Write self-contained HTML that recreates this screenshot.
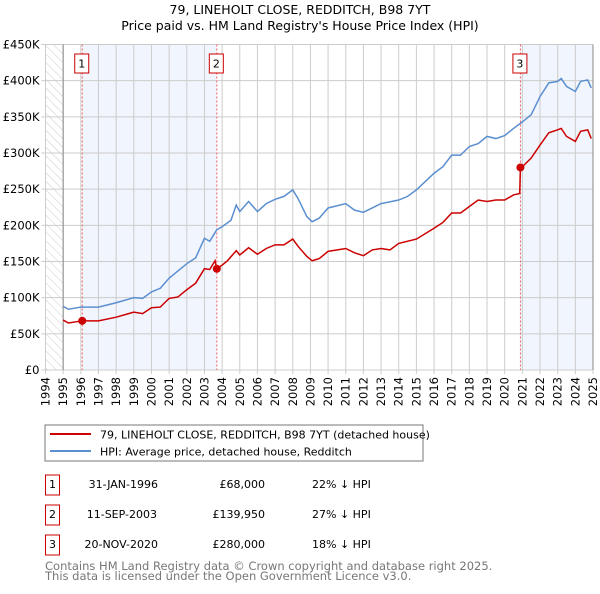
<!DOCTYPE html>
<html><head><meta charset="utf-8"><style>
body{margin:0;background:#fff;font-family:"DejaVu Sans","Liberation Sans",sans-serif}
svg text{font-family:"DejaVu Sans","Liberation Sans",sans-serif}
</style></head><body>
<svg id="c" width="600" height="590" xmlns="http://www.w3.org/2000/svg">
<defs><pattern id="hatch" width="6" height="6" patternUnits="userSpaceOnUse" patternTransform="rotate(-45)"><line x1="0" y1="0" x2="0" y2="6" stroke="#ccc" stroke-width="1"/></pattern></defs>
<text x="300" y="14" text-anchor="middle" font-size="12.5" fill="#000">79, LINEHOLT CLOSE, REDDITCH, B98 7YT</text>
<text x="300" y="30" text-anchor="middle" font-size="12.5" fill="#000">Price paid vs. HM Land Registry's House Price Index (HPI)</text>
<g id="plot"></g>
<rect x="45" y="425" width="378" height="36" fill="#fff" stroke="#777"/>
<line x1="50" y1="434" x2="91" y2="434" stroke="#cc0000" stroke-width="2"/>
<text x="100" y="438.5" font-size="11">79, LINEHOLT CLOSE, REDDITCH, B98 7YT (detached house)</text>
<line x1="50" y1="451" x2="91" y2="451" stroke="#5b8fd0" stroke-width="2"/>
<text x="100" y="455.5" font-size="11">HPI: Average price, detached house, Redditch</text>
<g font-size="11">
<rect x="45.5" y="475" width="14" height="20" fill="none" stroke="#cc0000"/><text x="52.5" y="488" text-anchor="middle">1</text>
<text x="158" y="488" text-anchor="end">31-JAN-1996</text><text x="265" y="488" text-anchor="end">£68,000</text><text x="312" y="488">22% ↓ HPI</text>
<rect x="45.5" y="505" width="14" height="20" fill="none" stroke="#cc0000"/><text x="52.5" y="518" text-anchor="middle">2</text>
<text x="157" y="518" text-anchor="end">11-SEP-2003</text><text x="265" y="518" text-anchor="end">£139,950</text><text x="312" y="518">27% ↓ HPI</text>
<rect x="45.5" y="535" width="14" height="20" fill="none" stroke="#cc0000"/><text x="52.5" y="548" text-anchor="middle">3</text>
<text x="158" y="548" text-anchor="end">20-NOV-2020</text><text x="265" y="548" text-anchor="end">£280,000</text><text x="312" y="548">18% ↓ HPI</text>
</g>
<text x="45" y="570" font-size="11.5" fill="#777">Contains HM Land Registry data © Crown copyright and database right 2025.</text>
<text x="45" y="580" font-size="11.5" fill="#777">This data is licensed under the Open Government Licence v3.0.</text>
</svg>
<script>
const hpiYears=[1995.0,1995.3,1996.0,1997.0,1998.0,1999.0,1999.5,2000.0,2000.5,2001.0,2002.0,2002.5,2003.0,2003.3,2003.7,2004.0,2004.5,2004.8,2005.0,2005.5,2006.0,2006.5,2007.0,2007.5,2008.0,2008.3,2008.8,2009.1,2009.5,2010.0,2011.0,2011.5,2012.0,2013.0,2014.0,2014.5,2015.0,2016.0,2016.5,2017.0,2017.5,2018.0,2018.5,2019.0,2019.5,2020.0,2020.5,2021.0,2021.5,2022.0,2022.5,2023.0,2023.2,2023.5,2024.0,2024.3,2024.7,2024.9];
const hpiValues=[88,84,87,87,93,100,99,108,113,127,147,155,182,178,194,198,207,228,219,233,219,230,236,240,249,237,212,205,210,224,230,221,218,230,235,240,249,272,281,297,297,309,313,323,320,324,334,343,353,378,397,399,403,392,385,399,401,390];
const priceYears=[1995.0,1995.3,1996.08,1997.0,1998.0,1999.0,1999.5,2000.0,2000.5,2001.0,2001.5,2002.0,2002.5,2003.0,2003.3,2003.6,2003.7,2004.0,2004.3,2004.8,2005.0,2005.5,2006.0,2006.5,2007.0,2007.5,2008.0,2008.3,2008.8,2009.1,2009.5,2010.0,2011.0,2011.5,2012.0,2012.5,2013.0,2013.5,2014.0,2015.0,2016.0,2016.5,2017.0,2017.5,2018.0,2018.5,2019.0,2019.5,2020.0,2020.5,2020.85,2020.89,2021.0,2021.5,2022.0,2022.5,2023.0,2023.2,2023.5,2024.0,2024.3,2024.7,2024.9];
const priceValues=[69,65,68,68,73,80,78,86,87,99,101,111,120,140,139,151,140,145,151,165,159,169,160,168,173,173,181,171,157,151,154,164,168,162,158,166,168,166,175,181,196,204,217,217,226,235,233,235,235,242,244,280,281,293,311,328,332,334,323,316,330,332,320];
const saleYears=[1996.08,2003.7,2020.89];
const saleValues=[68,139.95,280];
const saleLabels=["1","2","3"];
const yTicks=[0,50,100,150,200,250,300,350,400,450];
const yTickLabels=["£0","£50K","£100K","£150K","£200K","£250K","£300K","£350K","£400K","£450K"];
const xTicks=[1994,1995,1996,1997,1998,1999,2000,2001,2002,2003,2004,2005,2006,2007,2008,2009,2010,2011,2012,2013,2014,2015,2016,2017,2018,2019,2020,2021,2022,2023,2024,2025];
const NS="http://www.w3.org/2000/svg";
const X0=45.5,X1=593,Y0=370,Y1=44.5;
const xs=y=>X0+(y-1994)/(2025-1994)*(X1-X0);
const ys=v=>Y0-(v/450)*(Y0-Y1);
const g=document.getElementById('plot');
function mk(t,a){const e=document.createElementNS(NS,t);for(const k in a)e.setAttribute(k,a[k]);g.appendChild(e);return e;}
let e;
e=mk('rect',{x:X0,y:Y1,width:xs(1995)-X0,height:Y0-Y1,fill:'url(#hatch)'});


e=mk('rect',{x:xs(saleYears[0]),y:Y1,width:xs(saleYears[1])-xs(saleYears[0]),height:Y0-Y1,fill:'#eef3fc',opacity:0.8});


e=mk('rect',{x:xs(saleYears[2]),y:Y1,width:X1-xs(saleYears[2]),height:Y0-Y1,fill:'#eef3fc',opacity:0.8});


xTicks.forEach(t=>{
 e=mk('line',{x1:xs(t),x2:xs(t),y1:Y1,y2:Y0+4,stroke:'#ccc','stroke-width':1});
 
 
 e=mk('text',{x:0,y:0,'font-size':11.5,'text-anchor':'end',transform:`translate(${xs(t)+4},${Y0+7}) rotate(-90)`});
 e.textContent=t;
 
 
});
yTicks.forEach((t,i)=>{
 e=mk('line',{x1:X0-4,x2:X1,y1:ys(t),y2:ys(t),stroke:'#ccc','stroke-width':1});
 
 
 e=mk('text',{x:X0-6,y:ys(t)+4,'font-size':11.5,'text-anchor':'end'});
 e.textContent=yTickLabels[i];
 
 
});
e=mk('line',{x1:xs(1995),x2:xs(1995),y1:Y1,y2:Y0,stroke:'#888'});


e=mk('line',{x1:X1,x2:X1,y1:Y1,y2:Y0,stroke:'#888'});


saleYears.forEach((s,i)=>{
 e=mk('line',{x1:xs(s),x2:xs(s),y1:Y1,y2:Y0,stroke:'#f06060','stroke-dasharray':'2,2'});
 
 
 e=mk('rect',{x:xs(s)-7.5,y:54,width:14,height:19,fill:'#fff',stroke:'#cc0000'});
 
 
 e=mk('text',{x:xs(s)-0.5,y:67.5,'font-size':11,'text-anchor':'middle'});
 e.textContent=saleLabels[i];
 
 
});
e=mk('polyline',{points:hpiYears.map((y,i)=>xs(y)+','+ys(hpiValues[i])).join(' '),fill:'none',stroke:'#5b8fd0','stroke-width':1.5});


e=mk('polyline',{points:priceYears.map((y,i)=>xs(y)+','+ys(priceValues[i])).join(' '),fill:'none',stroke:'#cc0000','stroke-width':1.5});


saleYears.forEach((s,i)=>{
 e=mk('circle',{cx:xs(s),cy:ys(saleValues[i]),r:4,fill:'#cc0000'});
 
 
});
</script>
</body></html>
